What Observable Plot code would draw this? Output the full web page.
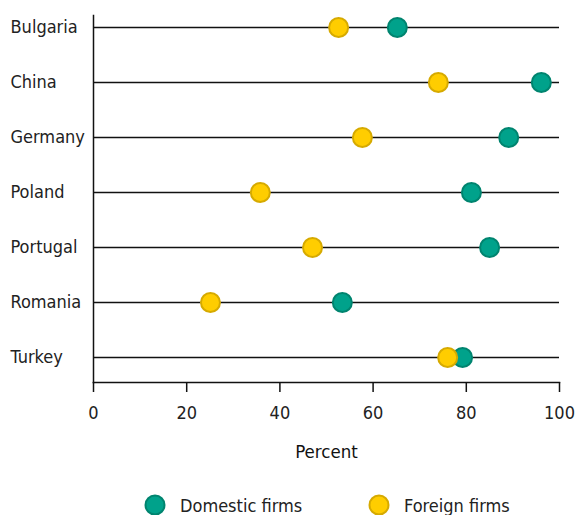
<!DOCTYPE html>
<html>
<head>
<meta charset="utf-8">
<script src="https://cdn.jsdelivr.net/npm/d3@7"></script>
<script src="https://cdn.jsdelivr.net/npm/@observablehq/plot@0.6"></script>
<style>
  html, body { margin: 0; padding: 0; background: #fff; }
  body { width: 576px; font-family: "DejaVu Sans Condensed", Roboto, sans-serif; }
  #legend { font-size: 18px; color: #222; }
  .item { display: flex; align-items: center; }
  .item svg { margin-right: 14px; }
</style>
</head>
<body>
<div id="chart"></div>
<div id="legend"></div>
<script>
const countries = ["Bulgaria", "China", "Germany", "Poland", "Portugal", "Romania", "Turkey"];
const domestic = [65.2, 96.1, 89.1, 81.1, 85.0, 53.4, 79.2];
const foreign  = [52.6, 74.0, 57.7, 35.8, 47.0, 25.1, 76.0];
const seriesNames = ["Domestic firms", "Foreign firms"];
const fills = ["#00A28B", "#FFCD00"];
const strokes = ["#00846F", "#D6AA00"];
const xTicks = [0, 20, 40, 60, 80, 100];

const rows = [];
countries.forEach((c, i) => {
  rows.push({country: c, series: seriesNames[0], value: domestic[i]});
});
countries.forEach((c, i) => {
  rows.push({country: c, series: seriesNames[1], value: foreign[i]});
});

const font = '"DejaVu Sans Condensed", Roboto, sans-serif';
const H = 470;
const chart = Plot.plot({
  width: 576,
  height: H,
  marginLeft: 93,
  marginRight: 17,
  marginTop: 15,
  marginBottom: H - 382,
  style: {fontFamily: font, fontSize: "18px", color: "#222", background: "#fff"},
  x: {domain: [0, 100]},
  y: {type: "point", domain: countries, range: [26, 358.7], padding: 0},
  marks: [
    Plot.ruleY(countries, {y: d => d, stroke: "#111", strokeWidth: 1.5}),
    Plot.frame({anchor: "left", stroke: "#111", strokeWidth: 1.5}),
    Plot.frame({anchor: "bottom", stroke: "#111", strokeWidth: 1.5}),
    Plot.axisX({ticks: xTicks, tickSize: 10, tickPadding: 14, stroke: "#111", strokeWidth: 1.5,
      fontSize: 18, label: null}),
    Plot.text(["Percent"], {frameAnchor: "bottom", dy: 75, text: d => d, fontSize: 18.5, fill: "#111"}),
    Plot.axisY({ticks: [], label: null}),
    Plot.text(countries, {y: d => d, text: d => d, frameAnchor: "left", textAnchor: "start", dx: -83, fontSize: 18, fill: "#222"}),
    Plot.dot(rows, {x: "value", y: "country", r: 9.5,
      fill: d => fills[seriesNames.indexOf(d.series)],
      stroke: d => strokes[seriesNames.indexOf(d.series)],
      strokeWidth: 2})
  ]
});
document.getElementById("chart").appendChild(chart);

const legend = document.getElementById("legend");
const lx = [144, 368];
seriesNames.forEach((s, i) => {
  const item = document.createElement("div");
  item.className = "item";
  item.style.position = "absolute";
  item.style.left = lx[i] + "px";
  item.style.top = (H + 24) + "px";
  item.innerHTML = `<svg width="22" height="22"><circle cx="11" cy="11" r="9.5" fill="${fills[i]}" stroke="${strokes[i]}" stroke-width="2"/></svg><span>${s}</span>`;
  legend.appendChild(item);
});
</script>
</body>
</html>
